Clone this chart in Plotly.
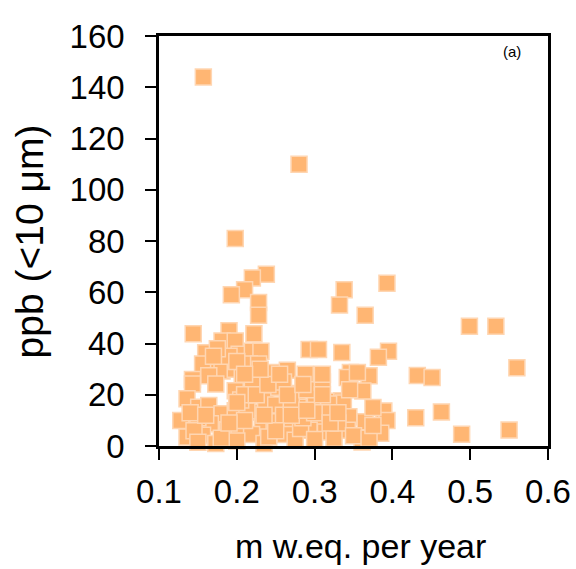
import plotly.graph_objects as go

# m w.eq. per year (x) and ppb <10 um (y)
x_vals = [
    0.157, 0.280, 0.198, 0.238, 0.220, 0.393, 0.338, 0.210, 0.193, 0.228,
    0.332, 0.228, 0.365, 0.499, 0.533, 0.560, 0.489, 0.550, 0.463, 0.430,
    0.432, 0.451, 0.395, 0.382, 0.335, 0.293, 0.305,
    0.144, 0.190, 0.181, 0.198, 0.160, 0.203, 0.173, 0.156, 0.181, 0.198,
    0.143, 0.164, 0.207, 0.222, 0.220, 0.231, 0.216, 0.228, 0.245, 0.265,
    0.288, 0.222,
    0.143, 0.136, 0.173, 0.198, 0.151, 0.164, 0.181, 0.198, 0.139, 0.166,
    0.188, 0.203, 0.136, 0.156, 0.173, 0.128,
    0.220, 0.237, 0.254, 0.278, 0.301, 0.318, 0.216, 0.252, 0.279, 0.233,
    0.248, 0.271, 0.306, 0.293, 0.314, 0.262, 0.219, 0.235, 0.275, 0.241,
    0.282, 0.213,
    0.346, 0.370, 0.342, 0.362, 0.335, 0.337, 0.389, 0.344, 0.365, 0.393,
    0.342, 0.385, 0.361, 0.355, 0.318,
    0.205, 0.210, 0.225, 0.250, 0.260, 0.285, 0.300, 0.320, 0.200, 0.210,
    0.150, 0.145, 0.260, 0.270, 0.290, 0.310, 0.240, 0.230, 0.190, 0.175,
    0.200, 0.325, 0.330, 0.350, 0.375, 0.310,
    0.140, 0.160, 0.180, 0.190, 0.150, 0.200, 0.170, 0.210, 0.270, 0.290,
    0.250, 0.300, 0.320, 0.235, 0.265, 0.285, 0.255, 0.310, 0.345, 0.370,
    0.375, 0.330,
]
y_vals = [
    144.0, 110.0, 81.0, 67.0, 65.6, 63.5, 61.0, 61.0, 59.0, 56.0,
    55.0, 51.0, 51.0, 46.7, 46.7, 30.5, 4.6, 6.2, 13.3, 11.0,
    27.5, 26.7, 37.0, 34.6, 36.5, 37.7, 37.7,
    43.8, 45.0, 41.0, 41.0, 36.4, 35.8, 32.0, 32.0, 29.3, 30.0,
    26.0, 27.4, 26.7, 43.8, 37.0, 37.0, 32.0, 32.0, 28.7, 29.6,
    28.0, 25.5,
    24.2, 18.4, 24.2, 21.6, 15.1, 15.8, 12.6, 13.8, 9.3, 8.7,
    6.1, 7.4, 3.5, 4.2, 1.0, 10.0,
    24.2, 17.7, 22.9, 20.5, 16.6, 17.5, 13.2, 13.5, 15.1, 8.7,
    9.5, 8.7, 10.0, 6.1, 5.5, 4.5, 4.5, 1.0, 2.2, 3.5,
    6.8, 13.8,
    28.7, 27.4, 26.7, 21.5, 17.7, 16.8, 13.7, 11.4, 9.5, 10.0,
    6.1, 5.0, 1.6, 28.7, 16.4,
    18.0, 20.0, 20.0, 16.0, 12.0, 11.0, 13.0, 13.0, 2.0, 10.0,
    11.0, 6.0, 25.0, 18.0, 22.0, 25.0, 24.0, 30.0, 35.0, 38.0,
    33.0, 3.0, 9.0, 4.0, 15.0, 28.0,
    13.0, 12.0, 3.0, 9.0, 1.5, 17.0, 35.0, 28.0, 12.0, 14.0,
    6.0, 2.5, 9.0, 12.0, 20.0, 24.0, 28.0, 20.0, 22.0, 3.0,
    8.0, 13.0,
]

x_ticks = [0.1, 0.2, 0.3, 0.4, 0.5, 0.6]
y_ticks = [0, 20, 40, 60, 80, 100, 120, 140, 160]

font_family = "Liberation Sans, Arial, sans-serif"

fig = go.Figure()
fig.add_trace(go.Scatter(
    x=x_vals, y=y_vals, mode="markers",
    marker=dict(symbol="square", size=16, color="rgb(255,182,115)",
                line=dict(color="rgb(255,214,178)", width=1.5)),
    showlegend=False, cliponaxis=False,
))

axis_common = dict(
    showgrid=False, zeroline=False, showline=True, linecolor="black",
    linewidth=2.5, mirror=True, ticks="outside", ticklen=11, tickwidth=2,
    tickcolor="black", automargin=False,
    tickfont=dict(family=font_family, size=33, color="black"),
)
fig.update_xaxes(range=[0.1, 0.6], tickvals=x_ticks,
                 ticktext=[f"{v:.1f}" for v in x_ticks],
                 ticklabelstandoff=4, **axis_common)
fig.update_yaxes(range=[0, 160], tickvals=y_ticks,
                 ticktext=[str(v) for v in y_ticks],
                 ticklabelstandoff=14, **axis_common)

fig.add_annotation(text="ppb (<10 μm)", xref="paper", yref="paper",
                   x=-0.333, y=0.5, textangle=-90, showarrow=False,
                   xanchor="center", yanchor="middle",
                   font=dict(family=font_family, size=39, color="black"))
fig.add_annotation(text="m w.eq. per year", xref="paper", yref="paper",
                   x=0.517, y=-0.245, showarrow=False,
                   xanchor="center", yanchor="middle",
                   font=dict(family=font_family, size=34, color="black"))
fig.add_annotation(text="(a)", xref="paper", yref="paper",
                   x=0.907, y=0.961, showarrow=False,
                   xanchor="center", yanchor="middle",
                   font=dict(family=font_family, size=15, color="black"))

fig.update_layout(
    width=576, height=569,
    margin=dict(l=159, r=28, t=36, b=123),
    paper_bgcolor="white", plot_bgcolor="white",
)

fig.write_html("out.html")
